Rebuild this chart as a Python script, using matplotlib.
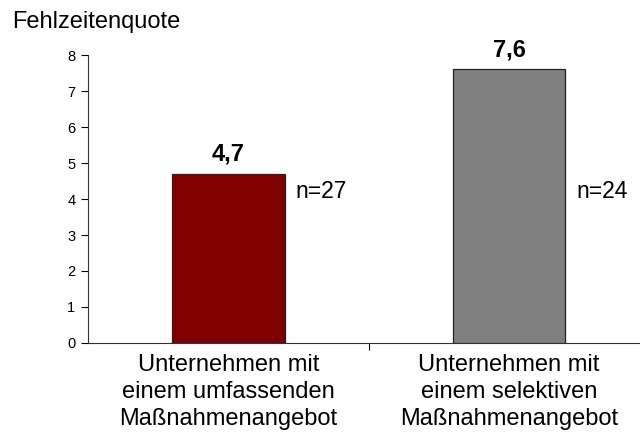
import matplotlib
matplotlib.use("Agg")
import matplotlib.pyplot as plt

categories = ["Unternehmen mit\neinem umfassenden\nMaßnahmenangebot",
              "Unternehmen mit\neinem selektiven\nMaßnahmenangebot"]
values = [4.7, 7.6]
value_labels = ["4,7", "7,6"]
n_labels = ["n=27", "n=24"]
colors = ["#800000", "#808080"]

plt.rcParams['font.family'] = ['Liberation Sans', 'DejaVu Sans']

fig = plt.figure(figsize=(6.4, 4.33), dpi=100)
W, H = 640, 433
x0, x1 = 88, 649.5
y0, y1 = 343, 55
ax = fig.add_axes([x0 / W, 1 - y0 / H, (x1 - x0) / W, (y0 - y1) / H])

xs = list(range(len(values)))
ax.bar(xs, values, width=0.4, color=colors, edgecolor="#222222", linewidth=0.9, zorder=3)
ax.set_xlim(-0.5, 1.5)
ax.set_ylim(0, 8)
ax.set_yticks(range(0, 9))
ax.tick_params(axis='y', labelsize=10.5, length=5, width=0.8, direction='out', pad=4)
ax.set_xticks([0.5])
ax.set_xticklabels([])
ax.tick_params(axis='x', length=5, width=0.8, direction='out')
for s in ["top", "right"]:
    ax.spines[s].set_visible(False)
for s in ["left", "bottom"]:
    ax.spines[s].set_linewidth(0.8)
    ax.spines[s].set_color("#333333")

for x, v, lab, nl in zip(xs, values, value_labels, n_labels):
    ax.text(x, v + 0.22, lab, ha='center', va='bottom', fontsize=17, fontweight='bold')
    ax.text(x + 0.24, 4.22, nl, ha='left', va='center', fontsize=16.5)
    ax.text(x, -0.3, categories[x], ha='center', va='top', fontsize=17, linespacing=1.3)

fig.text(12 / W, 1 - 22 / H, "Fehlzeitenquote", ha='left', va='center', fontsize=17)

fig.savefig("out.png", dpi=100)
